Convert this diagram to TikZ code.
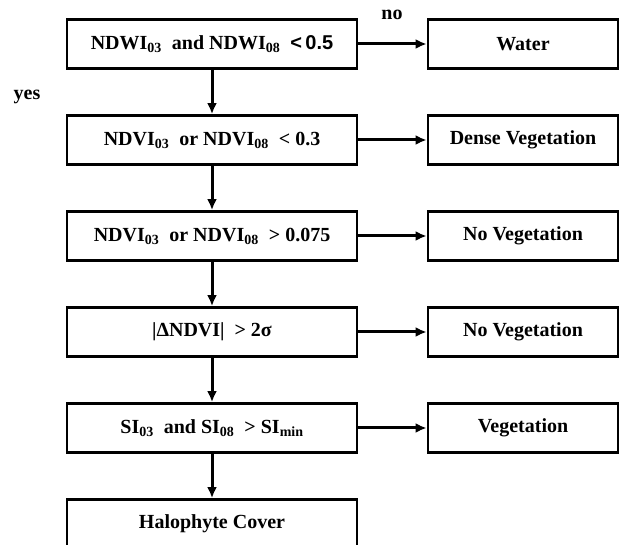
\documentclass[tikz,border=0pt]{standalone}
\usepackage{fontspec}
\setmainfont{Liberation Serif}
\newfontfamily\arialfont{Liberation Sans}
\usetikzlibrary{arrows.meta,positioning}

\begin{document}
\begin{tikzpicture}[x=1pt,y=1pt,font=\bfseries\fontsize{20}{24}\selectfont,>=Latex]
\tikzset{
  cond/.style={draw=black,line width=2.8pt,minimum width=290pt,minimum height=49pt,
               inner sep=2pt,align=center,fill=white},
  result/.style={draw=black,line width=2.8pt,minimum width=190pt,minimum height=49pt,
                 inner sep=2pt,align=center,fill=white},
  flow/.style={black,line width=3pt,-{Latex[length=11pt,width=10pt]}},
  note/.style={font=\bfseries\fontsize{20}{24}\selectfont}
}
\useasboundingbox (0,0) rectangle (619,544);

% ---------- the tests ------------------------------------------------------
\node[cond] (ndwi)  at (212,500) {NDWI\textsubscript{03}\ \ and NDWI\textsubscript{08}\ \ {\arialfont <\,0.5}};
\node[cond] (ndvia) at (212,404) {NDVI\textsubscript{03}\ \ or NDVI\textsubscript{08}\ \ < 0.3};
\node[cond] (ndvib) at (212,308) {NDVI\textsubscript{03}\ \ or NDVI\textsubscript{08}\ \ > 0.075};
\node[cond] (delta) at (212,212) {|ΔNDVI|\ \ > 2σ};
\node[cond] (salt)  at (212,116) {SI\textsubscript{03}\ \ and SI\textsubscript{08}\ \ > SI\textsubscript{min}};
\node[cond] (halo)  at (212,20)  {Halophyte\ Cover};

% ---------- the classes ----------------------------------------------------
\node[result] (water) at (523,500) {Water};
\node[result] (dense) at (523,404) {Dense Vegetation};
\node[result] (novega) at (523,308) {No Vegetation};
\node[result] (novegb) at (523,212) {No Vegetation};
\node[result] (veg)   at (523,116) {Vegetation};

% ---------- yes: down the chain --------------------------------------------
\draw[flow] (ndwi)--(ndvia);
\draw[flow] (ndvia)--(ndvib);
\draw[flow] (ndvib)--(delta);
\draw[flow] (delta)--(salt);
\draw[flow] (salt)--(halo);

% ---------- no: out to the right -------------------------------------------
\draw[flow] (ndwi)--(water);
\draw[flow] (ndvia)--(dense);
\draw[flow] (ndvib)--(novega);
\draw[flow] (delta)--(novegb);
\draw[flow] (salt)--(veg);

\node[note] (no)  at (392,529) {no};
\node[note] (yes) at (27,447)  {yes};
\end{tikzpicture}
\end{document}
